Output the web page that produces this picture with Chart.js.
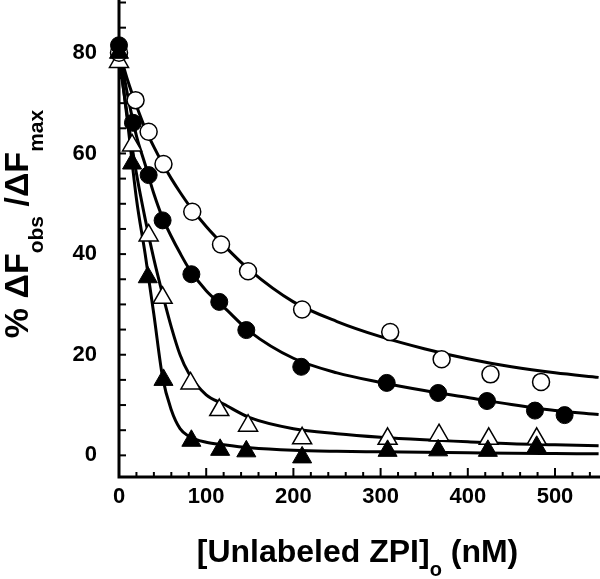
<!DOCTYPE html>
<html><head><meta charset="utf-8">
<script src="https://cdn.jsdelivr.net/npm/chart.js@4"></script>
<style>html,body{margin:0;padding:0;background:#fff}#wrap{width:600px;height:579px}</style>
</head><body><div id="wrap"><canvas id="c" width="600" height="579"></canvas></div>
<script>
// ---- data ----
const xTickLabels = [0, 100, 200, 300, 400, 500];
const yTickLabels = [0, 20, 40, 60, 80];
const xMinorTicks = [0,20,40,60,80,100,120,140,160,180,200,220,240,260,280,300,320,340,360,380,400,420,440,460,480,500,520,540];
const yMinorTicks = [0,5,10,15,20,25,30,35,40,45,50,55,60,65,70,75,80,85,90];

const openCircleX = [0, 19, 34, 51, 84, 117, 148, 210, 311, 370, 426, 484];
const openCircleY = [80, 70.6, 64.3, 57.9, 48.4, 41.9, 36.6, 29.0, 24.5, 19.1, 16.1, 14.6];
const filledCircleX = [0, 16, 34, 50, 83, 115, 146, 209, 307, 366, 422, 477, 511];
const filledCircleY = [81.5, 66.1, 55.7, 46.7, 36.0, 30.5, 24.9, 17.6, 14.4, 12.4, 10.8, 8.9, 8.0];
const openTriX = [0, 15, 34, 50, 82, 115, 148, 210, 308, 367, 424, 479];
const openTriY = [78.2, 61.6, 43.7, 31.3, 14.3, 9.0, 5.9, 3.4, 3.3, 4.0, 3.3, 3.3];
const filledTriX = [0, 15, 33, 51, 83, 116, 146, 210, 308, 366, 423, 479];
const filledTriY = [80, 58, 35.4, 15.0, 2.9, 1.1, 0.8, -0.4, 0.9, 1.0, 0.9, 1.7];

const curveX = [0,10,20,30,40,50,60,70,80,100,120,150,200,250,300,350,400,450,500,550];
const curveOpenCircle = [80.5,74.5,69.5,65,61.3,58,55,52.3,49.8,45.5,41.8,36.8,30.5,26.6,23.6,21.2,19.2,17.6,16.4,15.5];
const curveFilledCircle = [81,71.5,63.5,57.8,52,47.2,43.5,40.2,37.2,32.7,29.5,24.6,19.3,16.4,14.5,12.9,11.5,10.1,8.9,8.1];
const curveOpenTri = [79,67,56,47,39,32,25.5,20,16.3,12,10.2,7.5,5.3,4.3,3.6,3.1,2.7,2.3,2.1,1.9];
const curveFilledTri = [80,66,51,40,28,15.5,9,5.3,3.8,2.6,2.1,1.5,1.0,0.8,0.7,0.6,0.5,0.4,0.35,0.3];

const xTitleMain = "[Unlabeled ZPI]";
const xTitleSub = "o";
const xTitleTail = " (nM)";
const yTitleParts = [["% \u0394F", false], ["obs", true], [" /\u0394F", false], ["max", true]];

// ---- helpers ----
const FONT = "'Liberation Sans', Arial, Helvetica, sans-serif";
const pts = (xs, ys) => xs.map((x, i) => ({x: x, y: ys[i]}));

function curve(ys) {
  return {type: 'scatter', data: pts(curveX, ys), showLine: true, pointRadius: 0,
    borderColor: '#000', borderWidth: 3, cubicInterpolationMode: 'monotone',
    fill: false, clip: false, order: 5};
}
function marker(xs, ys, style, filled, r) {
  return {type: 'scatter', data: pts(xs, ys), pointStyle: style, pointRadius: r,
    pointBackgroundColor: filled ? '#000' : '#fff', pointBorderColor: '#000',
    pointBorderWidth: filled ? 1 : 1.5, showLine: false, clip: false, order: filled ? 1 : 2};
}

const axisPlugin = {
  id: 'axisDraw',
  beforeDatasetsDraw(chart) {
    const ctx = chart.ctx, ca = chart.chartArea;
    const xs = chart.scales.x, ys = chart.scales.y;
    ctx.save();
    ctx.strokeStyle = '#000';
    ctx.lineWidth = 2;
    xMinorTicks.forEach(v => {
      const px = xs.getPixelForValue(v);
      const len = (v % 100 === 0) ? 9 : 5;
      ctx.beginPath(); ctx.moveTo(px, ca.bottom); ctx.lineTo(px, ca.bottom - len); ctx.stroke();
    });
    yMinorTicks.forEach(v => {
      const py = ys.getPixelForValue(v);
      ctx.beginPath(); ctx.moveTo(ca.left, py); ctx.lineTo(ca.left + 7, py); ctx.stroke();
    });
    ctx.lineWidth = 3;
    ctx.beginPath();
    ctx.moveTo(ca.left, 0);
    ctx.lineTo(ca.left, ca.bottom);
    ctx.lineTo(ca.right, ca.bottom);
    ctx.stroke();
    ctx.restore();
  },
  afterDraw(chart) {
    const ctx = chart.ctx, ca = chart.chartArea;
    ctx.save();
    ctx.fillStyle = '#000';
    ctx.textBaseline = 'alphabetic';
    ctx.textAlign = 'left';
    const mainF = 'bold 32px ' + FONT, subF = 'bold 20px ' + FONT;
    ctx.font = mainF; const w1 = ctx.measureText(xTitleMain).width;
    const w3 = ctx.measureText(xTitleTail).width;
    ctx.font = subF; const w2 = ctx.measureText(xTitleSub).width;
    let x0 = (ca.left + ca.right) / 2 - 2 - (w1 + w2 + w3) / 2;
    const base = 562;
    ctx.font = mainF; ctx.fillText(xTitleMain, x0, base);
    ctx.font = subF; ctx.fillText(xTitleSub, x0 + w1, base + 14);
    ctx.font = mainF; ctx.fillText(xTitleTail, x0 + w1 + w2, base);
    const yMainF = 'bold 34px ' + FONT, ySubF = 'bold 21px ' + FONT;
    let total = 0;
    const widths = yTitleParts.map(([t, sub]) => {
      ctx.font = sub ? ySubF : yMainF;
      const w = ctx.measureText(t).width; total += w; return w;
    });
    ctx.translate(28, 224);
    ctx.rotate(-Math.PI / 2);
    let cx = -total / 2;
    yTitleParts.forEach(([t, sub], i) => {
      ctx.font = sub ? ySubF : yMainF;
      ctx.fillText(t, cx, sub ? 15 : 0);
      cx += widths[i];
    });
    ctx.restore();
  }
};

const tickFont = {family: FONT, size: 22, weight: 'bold'};
const zeroPad = s => { s.paddingLeft = 0; s.paddingRight = 0; s.paddingTop = 0; s.paddingBottom = 0; };

new Chart(document.getElementById('c'), {
  type: 'scatter',
  data: {
    datasets: [
      curve(curveOpenCircle), curve(curveFilledCircle), curve(curveOpenTri), curve(curveFilledTri),
      marker(openCircleX, openCircleY, 'circle', false, 8.5),
      marker(openTriX, openTriY, 'triangle', false, 11),
      marker(filledTriX, filledTriY, 'triangle', true, 11),
      marker(filledCircleX, filledCircleY, 'circle', true, 8.5)
    ]
  },
  options: {
    responsive: false, animation: false, devicePixelRatio: 1,
    layout: {padding: 0, autoPadding: false},
    plugins: {legend: {display: false}, tooltip: {enabled: false}, title: {display: false}},
    scales: {
      x: {type: 'linear', position: 'bottom', min: 0, max: 551.6,
        grid: {display: false, drawTicks: false}, border: {display: false},
        ticks: {font: tickFont, color: '#000', padding: 7, maxRotation: 0, autoSkip: false},
        afterBuildTicks: s => { s.ticks = xTickLabels.map(v => ({value: v})); },
        afterFit: s => { s.height = 102; zeroPad(s); }},
      y: {type: 'linear', min: -4.3, max: 90.5,
        grid: {display: false, drawTicks: false}, border: {display: false},
        ticks: {font: tickFont, color: '#000', padding: 22, autoSkip: false},
        afterBuildTicks: s => { s.ticks = yTickLabels.map(v => ({value: v})); },
        afterFit: s => { s.width = 119; zeroPad(s); }}
    }
  },
  plugins: [axisPlugin]
});
</script></body></html>
